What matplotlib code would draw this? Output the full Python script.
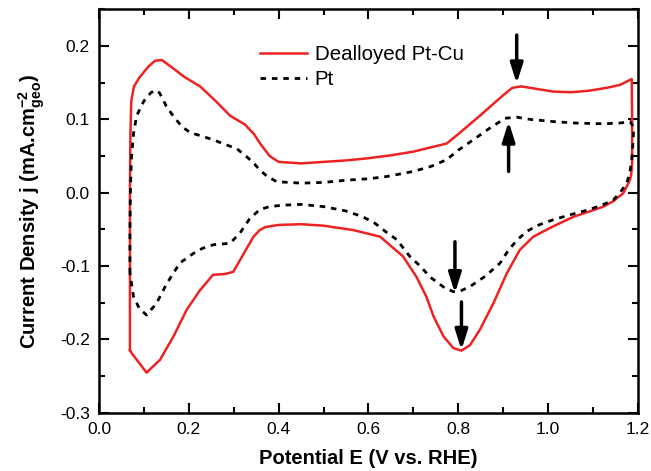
import matplotlib
matplotlib.use("Agg")
import matplotlib.pyplot as plt
import matplotlib.ticker as mticker

plt.rcParams["font.family"] = ["Liberation Sans", "DejaVu Sans"]
plt.rcParams["mathtext.fontset"] = "custom"
plt.rcParams["mathtext.rm"] = "Liberation Sans"
plt.rcParams["mathtext.bf"] = "Liberation Sans:bold"
plt.rcParams["mathtext.default"] = "bf"

# ── data ──────────────────────────────────────────────────────
# Dealloyed Pt-Cu : anodic sweep then cathodic sweep
ptcu_E = [0.069, 0.069, 0.069, 0.070, 0.072, 0.078, 0.090, 0.110, 0.125, 0.140,
          0.160, 0.190, 0.225, 0.260, 0.292, 0.325, 0.345, 0.360, 0.380, 0.400,
          0.450, 0.500, 0.550, 0.600, 0.650, 0.700, 0.740, 0.774, 0.800, 0.850,
          0.900, 0.920, 0.940, 0.970, 1.010, 1.050, 1.090, 1.130, 1.160, 1.186,
          1.187, 1.187, 1.185, 1.182, 1.167, 1.144, 1.123, 1.090, 1.056, 1.011,
          0.967, 0.937, 0.908, 0.878, 0.848, 0.826, 0.807, 0.789, 0.767, 0.745,
          0.729, 0.707, 0.677, 0.626, 0.566, 0.500, 0.450, 0.400, 0.370, 0.358,
          0.344, 0.314, 0.299, 0.280, 0.254, 0.225, 0.195, 0.166, 0.136, 0.106,
          0.073, 0.069]
ptcu_j = [-0.215, -0.100, 0.000, 0.080, 0.125, 0.145, 0.157, 0.172, 0.180, 0.181,
          0.172, 0.158, 0.145, 0.125, 0.105, 0.093, 0.080, 0.066, 0.050, 0.042,
          0.040, 0.042, 0.044, 0.047, 0.051, 0.056, 0.062, 0.067, 0.080, 0.106,
          0.133, 0.143, 0.145, 0.142, 0.138, 0.137, 0.139, 0.143, 0.147, 0.155,
          0.100, 0.040, 0.025, 0.017, -0.001, -0.012, -0.019, -0.026, -0.033, -0.046,
          -0.060, -0.078, -0.110, -0.151, -0.187, -0.208, -0.2155, -0.212, -0.196, -0.169,
          -0.142, -0.115, -0.087, -0.060, -0.051, -0.045, -0.043, -0.044, -0.047, -0.051,
          -0.060, -0.092, -0.108, -0.111, -0.112, -0.133, -0.160, -0.196, -0.228, -0.2455,
          -0.219, -0.215]

# Pt : anodic sweep then cathodic sweep
pt_E = [0.069, 0.069, 0.070, 0.072, 0.077, 0.084, 0.100, 0.115, 0.125, 0.135,
        0.150, 0.166, 0.185, 0.203, 0.230, 0.255, 0.280, 0.307, 0.329, 0.345,
        0.358, 0.375, 0.396, 0.450, 0.500, 0.550, 0.600, 0.640, 0.700, 0.740,
        0.774, 0.800, 0.833, 0.870, 0.904, 0.930, 0.960, 1.011, 1.060, 1.123,
        1.160, 1.182, 1.190, 1.190, 1.188, 1.186, 1.182, 1.175, 1.160, 1.145,
        1.120, 1.086, 1.050, 1.011, 0.975, 0.952, 0.930, 0.910, 0.893, 0.860,
        0.826, 0.805, 0.789, 0.770, 0.737, 0.715, 0.692, 0.663, 0.640, 0.615,
        0.588, 0.550, 0.500, 0.450, 0.410, 0.380, 0.358, 0.335, 0.314, 0.292,
        0.255, 0.230, 0.210, 0.180, 0.151, 0.128, 0.106, 0.090, 0.077, 0.069]
pt_j = [-0.110, -0.050, 0.000, 0.045, 0.081, 0.105, 0.125, 0.136, 0.140, 0.136,
        0.118, 0.104, 0.090, 0.082, 0.077, 0.072, 0.066, 0.060, 0.049, 0.040,
        0.031, 0.022, 0.015, 0.013, 0.014, 0.017, 0.019, 0.022, 0.029, 0.036,
        0.045, 0.058, 0.072, 0.088, 0.1015, 0.103, 0.100, 0.097, 0.095, 0.094,
        0.095, 0.097, 0.090, 0.081, 0.060, 0.045, 0.028, 0.013, 0.000, -0.010,
        -0.017, -0.024, -0.030, -0.037, -0.045, -0.053, -0.065, -0.080, -0.096, -0.114,
        -0.128, -0.134, -0.135, -0.130, -0.115, -0.100, -0.087, -0.064, -0.054, -0.042,
        -0.033, -0.025, -0.019, -0.016, -0.017, -0.019, -0.023, -0.036, -0.055, -0.069,
        -0.071, -0.076, -0.083, -0.096, -0.124, -0.151, -0.167, -0.158, -0.142, -0.110]

# arrows: (E, j_tail, j_tip)
arrow_E    = [0.930, 0.912, 0.7925, 0.807]
arrow_tail = [0.215, 0.029, -0.067, -0.149]
arrow_tip  = [0.149, 0.097, -0.137, -0.2145]

# ── plot ──────────────────────────────────────────────────────
fig = plt.figure(figsize=(6.51, 4.71), dpi=100)
ax = fig.add_axes([0.152, 0.124, 0.828, 0.856])

ax.plot(ptcu_E, ptcu_j, color="#ee2222", linewidth=1.8, label="Dealloyed Pt-Cu")
ax.plot(pt_E, pt_j, color="black", linewidth=2.0, linestyle=(0, (2.0, 2.1)), label="Pt")

for e, jt, jh in zip(arrow_E, arrow_tail, arrow_tip):
    ax.annotate("", xy=(e, jh), xytext=(e, jt),
                arrowprops=dict(arrowstyle="-|>,head_width=0.38,head_length=1.2",
                                lw=2.5, color="black", shrinkA=0, shrinkB=0,
                                mutation_scale=10))

ax.set_xlim(0.0, 1.2)
ax.set_ylim(-0.3, 0.25)
ax.xaxis.set_major_locator(mticker.MultipleLocator(0.2))
ax.xaxis.set_minor_locator(mticker.MultipleLocator(0.1))
ax.yaxis.set_major_locator(mticker.MultipleLocator(0.1))
ax.yaxis.set_minor_locator(mticker.MultipleLocator(0.05))
ax.xaxis.set_major_formatter(mticker.FormatStrFormatter("%.1f"))
ax.yaxis.set_major_formatter(mticker.FormatStrFormatter("%.1f"))
ax.tick_params(which="both", direction="in", top=True, right=True,
               labelsize=12.5, width=1.5, colors="black", pad=6.5)
ax.tick_params(which="major", length=7)
ax.tick_params(which="minor", length=4)
for s in ax.spines.values():
    s.set_linewidth(1.8)

ax.set_xlabel("Potential E (V vs. RHE)", fontsize=14.5, fontweight="bold", labelpad=9)
ax.set_ylabel(r"Current Density j (mA.cm$^{-2}_{geo}$)", fontsize=14.5,
              fontweight="bold", labelpad=9)

ax.legend(loc="upper left", bbox_to_anchor=(0.299, 0.912), frameon=False,
          fontsize=14.8, handlelength=2.3, handletextpad=0.35, borderpad=0,
          borderaxespad=0, labelspacing=0.32)

fig.savefig("out.png", dpi=100)
